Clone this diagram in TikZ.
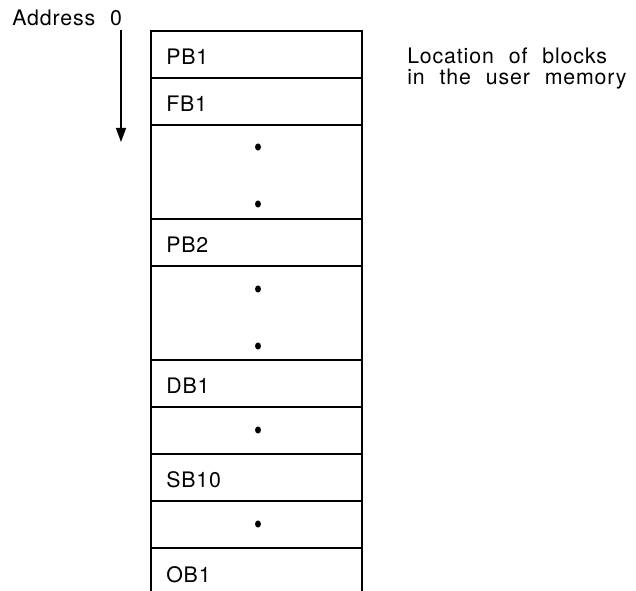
\documentclass[tikz,border=0pt]{standalone}
\usepackage{fontspec}
\setmainfont{TeX Gyre Heros}[LetterSpace=4,WordSpace=2.2]
\usetikzlibrary{arrows.meta}
\begin{document}
\begin{tikzpicture}[x=0.75pt,y=-0.75pt,
  cellline/.style={line width=1pt},
  lbl/.style={anchor=base west,inner sep=0pt,font=\fontsize{16}{19}\selectfont},
  dotmark/.style={fill=black}]
\useasboundingbox (0,0) rectangle (636,591);

% memory column: outer sides, open at the bottom
\draw[cellline] (151,591) -- (151,31) -- (362,31) -- (362,591);
% block boundaries
\foreach \y in {78,125,219,266,360,407,454,501,548}
  \draw[cellline] (151,\y) -- (362,\y);

% block names
\node[lbl] (pb1)  at (166,65)  {PB1};
\node[lbl] (fb1)  at (166,112) {FB1};
\node[lbl] (pb2)  at (166,253) {PB2};
\node[lbl] (db1)  at (166,394) {DB1};
\node[lbl] (sb10) at (166,488) {SB10};
\node[lbl] (ob1)  at (166,583) {OB1};

% continuation dots
\foreach \y in {147,204,289,346,430,524}
  \fill[dotmark] (258,\y) ellipse [x radius=3pt*0.75, y radius=3.6pt*0.75];

% address direction
\node[lbl] (addr) at (12,26) {Address 0};
\coordinate (astart) at (121,30);
\coordinate (aend) at (121,142);
\draw[line width=1pt,-{Triangle[length=10.5pt,width=7.5pt]}] (astart) -- (aend);

% caption
\node[lbl] (cap1) at (407,64) {Location of blocks};
\node[lbl] (cap2) at (407,85) {in the user memory};
\end{tikzpicture}
\end{document}
